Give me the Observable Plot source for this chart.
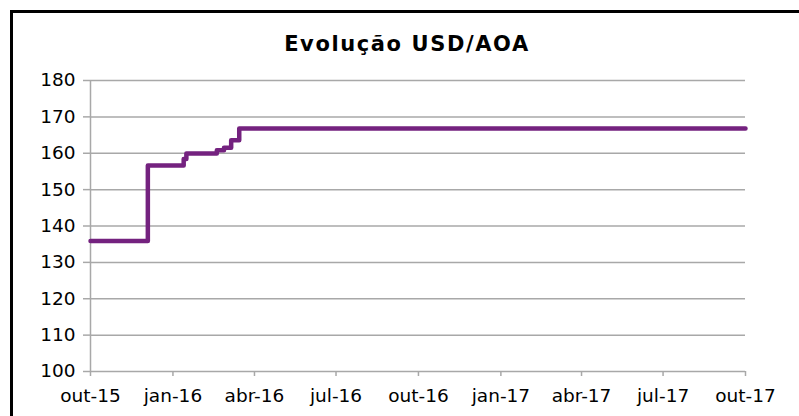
<!DOCTYPE html>
<html>
<head>
<meta charset="utf-8">
<script src="https://cdn.jsdelivr.net/npm/d3@7"></script>
<script src="https://cdn.jsdelivr.net/npm/@observablehq/plot@0.6"></script>
<style>
  html, body { margin: 0; padding: 0; background: #fff; }
  #wrap { position: relative; width: 799px; height: 416px; overflow: hidden; background: #fff; font-family: "DejaVu Sans", Verdana, sans-serif; }
  #frame { position: absolute; left: 10px; top: 10px; width: 820px; height: 440px; border-left: 3px solid #000; border-top: 3px solid #000; box-sizing: border-box; }
  #title { position: absolute; left: 0; width: 814px; top: 34px; text-align: center; font-weight: bold; font-size: 21px; letter-spacing: 1.6px; color: #000; line-height: 1; }
  #chart { position: absolute; left: 0; top: 60px; }
</style>
</head>
<body>
<div id="wrap">
  <div id="frame"></div>
  <div id="title">Evolução USD/AOA</div>
  <div id="chart"></div>
</div>
<script>
// Data (step changes of the USD/AOA rate)
const dates = ["2015-10-01","2015-12-04","2016-01-13","2016-01-16","2016-02-19","2016-02-27","2016-03-06","2016-03-15","2017-10-01"];
const rates = [135.9, 156.6, 158.4, 159.9, 160.8, 161.5, 163.6, 166.8, 166.8];

const tickDates = ["2015-10-01","2016-01-01","2016-04-01","2016-07-01","2016-10-01","2017-01-01","2017-04-01","2017-07-01","2017-10-01"];
const tickLabels = ["out-15","jan-16","abr-16","jul-16","out-16","jan-17","abr-17","jul-17","out-17"];
const yTicks = [100,110,120,130,140,150,160,170,180];

const data = dates.map((d, i) => ({date: new Date(d + "T00:00:00Z"), rate: rates[i]}));
const tDates = tickDates.map(d => new Date(d + "T00:00:00Z"));
const labelOf = new Map(tDates.map((d, i) => [+d, tickLabels[i]]));

const grey = "#a8a8a8";
const chart = Plot.plot({
  width: 799,
  height: 356,
  marginLeft: 90,
  marginRight: 54,
  marginTop: 20,
  marginBottom: 45,
  style: {fontFamily: "'DejaVu Sans', Verdana, sans-serif", fontSize: "18.5px", color: "#000", background: "transparent"},
  x: {type: "utc", domain: [tDates[0], tDates[tDates.length - 1]]},
  y: {domain: [100, 180]},
  marks: [
    Plot.ruleY(yTicks, {stroke: grey, strokeWidth: 1.5}),
    Plot.ruleX([tDates[0]], {stroke: grey, strokeWidth: 1.5}),
    Plot.axisY({ticks: yTicks, tickSize: 7, tickPadding: 8, stroke: grey, strokeWidth: 1.5, label: null, fill: "#000"}),
    Plot.axisX({ticks: tDates, tickSize: 5, tickPadding: 12, stroke: grey, strokeWidth: 1.5, label: null, fill: "#000",
      tickFormat: d => labelOf.get(+d)}),
    Plot.lineY(data, {x: "date", y: "rate", curve: "step-after", stroke: "#74227f", strokeWidth: 4.5, strokeLinejoin: "round", strokeLinecap: "round"})
  ]
});
document.getElementById("chart").appendChild(chart);
</script>
</body>
</html>
